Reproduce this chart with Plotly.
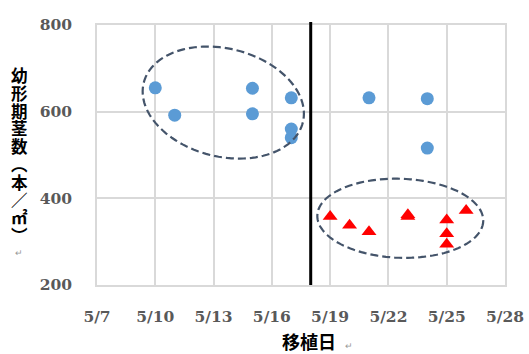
import math
import pandas as pd
import plotly.graph_objects as go

# ---- data ----
blue_dates = ["2023-05-10", "2023-05-11", "2023-05-15", "2023-05-15", "2023-05-17",
              "2023-05-17", "2023-05-17", "2023-05-21", "2023-05-24", "2023-05-24"]
blue_values = [655, 592, 654, 595, 632, 560, 540, 632, 630, 516]

red_dates = ["2023-05-19", "2023-05-20", "2023-05-21", "2023-05-23", "2023-05-23",
             "2023-05-25", "2023-05-25", "2023-05-25", "2023-05-26"]
red_values = [358, 338, 323, 358, 362, 350, 318, 294, 372]

divider_date = "2023-05-18"

tick_dates = ["2023-05-07", "2023-05-10", "2023-05-13", "2023-05-16", "2023-05-19",
              "2023-05-22", "2023-05-25", "2023-05-28"]
tick_labels = ["5/7", "5/10", "5/13", "5/16", "5/19", "5/22", "5/25", "5/28"]
y_ticks = [200, 400, 600, 800]

y_title_chars = ["幼", "形", "期", "茎", "数", "︵", "本", "／", "㎡", "︶"]
x_title = "移植日"

# ---- helpers ----
base = pd.Timestamp("2023-05-01")
def day(s):
    return (pd.Timestamp(s) - base).days + 1

bx = [day(d) for d in blue_dates]
rx = [day(d) for d in red_dates]
tv = [day(d) for d in tick_dates]

W, H = 529, 354
ml, mr, mt, mb = 97, 24, 25, 69
pw, ph = W - ml - mr, H - mt - mb
xr = [tv[0], tv[-1]]
yr = [200, 800]
pxd = pw / (xr[1] - xr[0])
pxu = ph / (yr[1] - yr[0])

def px_x(px):
    return (px - ml) / pw

def px_y(py):
    return 1 - (py - mt) / ph

def ellipse_path(cx, cy, a, b, deg, n=120):
    th = math.radians(deg)
    pts = []
    for i in range(n + 1):
        t = 2 * math.pi * i / n
        ex = a * math.cos(t) * math.cos(th) - b * math.sin(t) * math.sin(th)
        ey = a * math.cos(t) * math.sin(th) + b * math.sin(t) * math.cos(th)
        pts.append((cx + ex / pxd, cy - ey / pxu))
    return "M " + " L ".join(f"{x:.4f},{y:.3f}" for x, y in pts) + " Z"

fig = go.Figure()
fig.add_trace(go.Scatter(x=bx, y=blue_values, mode="markers",
                         marker=dict(symbol="circle", size=13, color="#5B9BD5"),
                         showlegend=False, cliponaxis=False))
fig.add_trace(go.Scatter(x=rx, y=red_values, mode="markers",
                         marker=dict(symbol="triangle-up", size=13, color="#FF0000"),
                         showlegend=False, cliponaxis=False))

dash_line = dict(color="#44546A", width=2.2, dash="8px,4px")
fig.add_shape(type="path", xref="x", yref="y",
              path=ellipse_path(13.5, 621, 82, 54, 14), line=dash_line, layer="above")
fig.add_shape(type="path", xref="x", yref="y",
              path=ellipse_path(22.61, 354, 83, 39.5, 2), line=dash_line, layer="above")

fig.add_shape(type="line", xref="x", yref="paper",
              x0=day(divider_date), x1=day(divider_date), y0=0, y1=1.012,
              line=dict(color="black", width=3), layer="above")

tickfont = dict(family="DejaVu Serif", size=15.5, color="#595959", weight="bold")
grid = "#D9D9D9"
fig.update_xaxes(range=xr, tickvals=tv, ticktext=tick_labels, showgrid=True,
                 gridcolor=grid, gridwidth=1.5, showline=True, linecolor=grid,
                 linewidth=1.5, mirror=True, zeroline=False, ticks="",
                 tickfont=tickfont, ticklabelstandoff=17, automargin=False)
fig.update_yaxes(range=yr, tickvals=y_ticks, showgrid=True, gridcolor=grid,
                 gridwidth=1.5, showline=True, linecolor=grid, linewidth=1.5,
                 mirror=True, zeroline=False, ticks="", tickfont=tickfont,
                 ticklabelstandoff=20, automargin=False)

cjk = "Liberation Sans, Noto Sans CJK JP"
step = 17.8
anns = []
for i, ch in enumerate(y_title_chars):
    anns.append(dict(x=px_x(19), y=px_y(76 + step * i), xref="paper", yref="paper",
                     text=ch, showarrow=False, xanchor="center", yanchor="middle",
                     height=step, borderpad=0,
                     font=dict(family=cjk, size=16.5, color="black", weight="bold")))
anns.append(dict(x=px_x(19), y=px_y(253), xref="paper", yref="paper", text="↵",
                 showarrow=False, xanchor="center", yanchor="middle", height=10,
                 borderpad=0, font=dict(family=cjk, size=9, color="#999999")))
anns.append(dict(x=px_x(309), y=px_y(343), xref="paper", yref="paper", text=x_title,
                 showarrow=False, xanchor="center", yanchor="middle", height=20,
                 borderpad=0,
                 font=dict(family=cjk, size=18, color="black", weight="bold")))
anns.append(dict(x=px_x(349), y=px_y(346), xref="paper", yref="paper", text="↵",
                 showarrow=False, xanchor="center", yanchor="middle", height=10,
                 borderpad=0, font=dict(family=cjk, size=9, color="#999999")))

fig.update_layout(width=W, height=H, margin=dict(l=ml, r=mr, t=mt, b=mb),
                  paper_bgcolor="white", plot_bgcolor="white",
                  annotations=anns, showlegend=False)

fig.write_html("out.html", config={"displayModeBar": False},
               post_script="document.body.style.margin='0';document.body.style.overflow='hidden';")
